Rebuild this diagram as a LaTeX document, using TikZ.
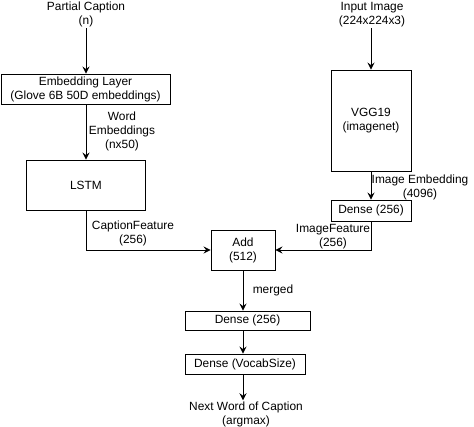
\documentclass[tikz,border=0pt]{standalone}
\usepackage{fontspec}
\setmainfont{Liberation Sans}
\usetikzlibrary{arrows.meta,positioning}
\begin{document}
\begin{tikzpicture}[x=1pt,y=-1pt,
  every node/.style={font=\fontsize{11.9}{14}\selectfont, align=center, inner sep=1pt},
  box/.style={draw, line width=0.9pt, inner sep=0pt, fill=white},
  lbl/.style={fill=none},
  conn/.style={draw, line width=0.9pt, -{Stealth[length=7pt,width=7pt,inset=2.5pt]}},
]
\useasboundingbox (0,0) rectangle (474,426);
% text nodes
\node (pc) at (86,14.5) {Partial Caption\\(n)};
\node (img) at (372,14.5) {Input Image\\(224x224x3)};
\node (out) at (246,414) {Next Word of Caption\\(argmax)};
% boxes
\node[box, minimum width=169pt, minimum height=30pt] (emb) at (85.5,89) {Embedding Layer\\(Glove 6B 50D embeddings)};
\node[box, minimum width=119pt, minimum height=50pt] (lstm) at (86,185) {LSTM};
\node[box, minimum width=80pt, minimum height=101pt] (vgg) at (371,120.5) {VGG19\\(imagenet)};
\node[box, minimum width=80pt, minimum height=21pt] (d1) at (371,210.5) {Dense (256)};
\node[box, minimum width=64pt, minimum height=40pt] (add) at (243,250) {Add\\(512)};
\node[box, minimum width=125pt, minimum height=19pt] (d2) at (247.5,320.5) {Dense (256)};
\node[box, minimum width=120pt, minimum height=20pt] (d3) at (245,364) {Dense (VocabSize)};
% connectors
\draw[conn] (pc.south) -- (pc.south |- emb.north);
\draw[conn] (lstm.north |- emb.south) -- (lstm.north);
\node[lbl] (we) at (122,131) {Word\\Embeddings\\(nx50)};
\draw[conn] (img.south -| vgg.north) -- (vgg.north);
\draw[conn] (vgg.south) -- (d1.north);
\node[lbl] (ie) at (420,187) {Image Embedding\\(4096)};
\draw[conn] (lstm.south) |- (add.west);
\node[lbl] (cf) at (133,233) {CaptionFeature\\(256)};
\draw[conn] (d1.south) |- (add.east);
\node[lbl] (if) at (333,237) {ImageFeature\\(256)};
\draw[conn] (add.south) -- (add.south |- d2.north);
\node[lbl] (mg) at (273,290) {merged};
\draw[conn] (add.south |- d2.south) -- (add.south |- d3.north);
\draw[conn] (add.south |- d3.south) -- (add.south |- out.north);
\end{tikzpicture}
\end{document}
